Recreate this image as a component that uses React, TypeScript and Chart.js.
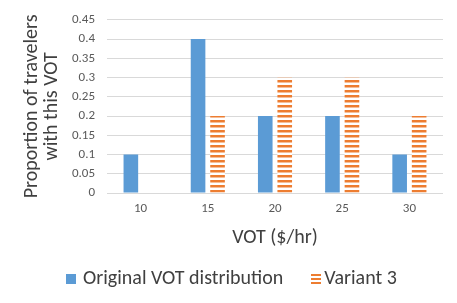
import React, { useEffect, useRef } from 'react';
import { Chart, registerables } from 'chart.js';

Chart.register(...registerables);

const categories = ['10', '15', '20', '25', '30'];
const originalValues = [0.1, 0.4, 0.2, 0.2, 0.1];
const variant3Values = [0, 0.2, 0.3, 0.3, 0.2];
const yTickValues = [0, 0.05, 0.1, 0.15, 0.2, 0.25, 0.3, 0.35, 0.4, 0.45];
const seriesNames = ['Original VOT distribution', 'Variant 3'];

const BLUE = '#5B9BD5';
const ORANGE = '#ED7D31';
const TICK_TEXT = '#595959';
const TEXT = '#404040';
const FONT = "Carlito, Lato, 'Open Sans', sans-serif";

function makeStripePattern(ctx: CanvasRenderingContext2D): CanvasPattern | string {
  const c = document.createElement('canvas');
  c.width = 4;
  c.height = 5;
  const g = c.getContext('2d');
  if (!g) return ORANGE;
  g.fillStyle = '#FFFFFF';
  g.fillRect(0, 0, 4, 5);
  g.fillStyle = ORANGE;
  g.fillRect(0, 0, 4, 2);
  g.fillStyle = '#F6BE98';
  g.fillRect(0, 2, 4, 1);
  const p = ctx.createPattern(c, 'repeat');
  return p || ORANGE;
}

function makeIcon(kind: 'solid' | 'stripes'): HTMLCanvasElement {
  const c = document.createElement('canvas');
  c.width = 10;
  c.height = 10;
  const g = c.getContext('2d')!;
  if (kind === 'solid') {
    g.fillStyle = BLUE;
    g.fillRect(0, 0, 10, 10);
  } else {
    g.fillStyle = ORANGE;
    g.fillRect(0, 0, 10, 2);
    g.fillRect(0, 4, 10, 2);
    g.fillRect(0, 8, 10, 2);
  }
  return c;
}

export default function App() {
  const canvasRef = useRef<HTMLCanvasElement | null>(null);

  useEffect(() => {
    const canvas = canvasRef.current;
    if (!canvas) return;
    const ctx = canvas.getContext('2d');
    if (!ctx) return;
    const stripes = makeStripePattern(ctx);
    const icons = [makeIcon('solid'), makeIcon('stripes')];

    // Legend row drawn below the axis title, centred like the original.
    const bottomLegend = {
      id: 'bottomLegend',
      afterDraw(chart: any) {
        const c: CanvasRenderingContext2D = chart.ctx;
        const names: string[] = chart.data.datasets.map((ds: any) => ds.label);
        const textGaps = [7, 3];
        const itemGap = 28;
        const box = 10;
        const centerY = 279;
        const centerX = 231.5;
        c.save();
        c.font = `20px ${FONT}`;
        c.textBaseline = 'middle';
        c.textAlign = 'left';
        c.fillStyle = TEXT;
        const widths = names.map((n) => c.measureText(n).width);
        let total = 0;
        names.forEach((_, i) => {
          total += box + textGaps[i] + widths[i];
          if (i > 0) total += itemGap;
        });
        let x = Math.round(centerX - total / 2);
        names.forEach((n, i) => {
          c.drawImage(icons[i], x, centerY - 5, box, box);
          x += box + textGaps[i];
          c.fillStyle = TEXT;
          c.fillText(n, x, centerY);
          x += widths[i] + itemGap;
        });
        c.restore();
      },
    };

    const chart = new Chart(ctx, {
      type: 'bar',
      data: {
        labels: categories,
        datasets: [
          {
            label: seriesNames[0],
            data: originalValues,
            backgroundColor: BLUE,
            borderWidth: 0,
            categoryPercentage: 0.58,
            barPercentage: 0.75,
          },
          {
            label: seriesNames[1],
            data: variant3Values,
            backgroundColor: stripes as any,
            borderWidth: 0,
            categoryPercentage: 0.58,
            barPercentage: 0.75,
          },
        ],
      },
      plugins: [bottomLegend],
      options: {
        responsive: false,
        animation: false,
        layout: { padding: { left: 10, right: 0, top: 14, bottom: 55 } },
        plugins: {
          tooltip: { enabled: false },
          legend: { display: false },
        },
        scales: {
          x: {
            grid: { display: false },
            border: { display: false },
            ticks: {
              color: TICK_TEXT,
              font: { family: FONT, size: 13 },
              padding: 0,
            },
            title: {
              display: true,
              text: 'VOT ($/hr)',
              color: TEXT,
              font: { family: FONT, size: 20, lineHeight: 1.0 },
              padding: { top: 0, bottom: 0 },
            },
            afterFit: (scale: any) => {
              scale.height = 55;
            },
          },
          y: {
            min: 0,
            max: 0.45,
            afterBuildTicks: (scale: any) => {
              scale.ticks = yTickValues.map((v) => ({ value: v }));
            },
            grid: { color: '#D9D9D9', drawTicks: false, lineWidth: 1 },
            border: { display: false },
            ticks: {
              color: TICK_TEXT,
              font: { family: FONT, size: 13 },
              padding: 12,
              callback: (v: any) => String(Number(Number(v).toFixed(2))),
            },
            title: {
              display: true,
              text: ['Proportion of travelers', 'with this VOT'],
              color: TEXT,
              font: { family: FONT, size: 20, lineHeight: 1.0 },
              padding: { top: 12, bottom: 0 },
            },
            afterFit: (scale: any) => {
              scale.width = 97;
            },
          },
          yRight: {
            position: 'right',
            display: true,
            grid: { display: false },
            border: { display: false },
            ticks: { display: false },
            afterFit: (scale: any) => {
              scale.width = 14;
            },
          },
        },
      },
    });

    return () => {
      chart.destroy();
    };
  }, []);

  return (
    <div style={{ position: 'absolute', left: 0, top: 0, width: 457, height: 303, background: '#fff' }}>
      <canvas ref={canvasRef} width={457} height={303} style={{ display: 'block' }} />
    </div>
  );
}
